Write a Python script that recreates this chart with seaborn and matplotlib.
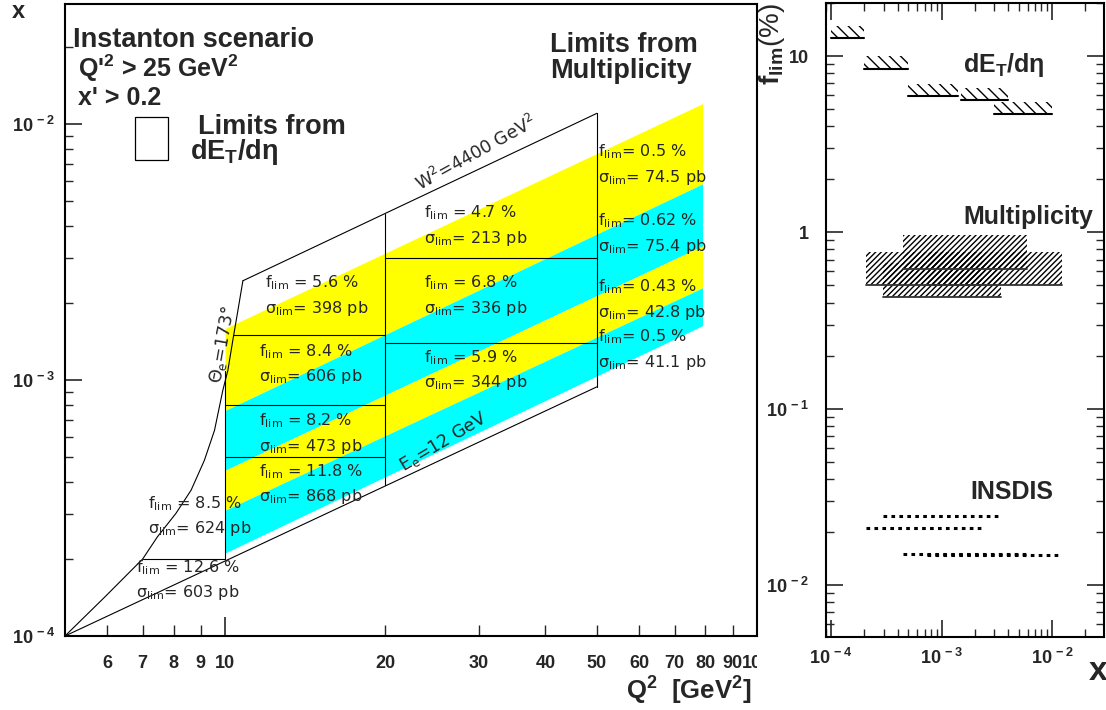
import numpy as np
import pandas as pd
import seaborn as sns
from matplotlib import pyplot as plt
from matplotlib.patches import Rectangle
from matplotlib.ticker import NullFormatter
from matplotlib.transforms import Bbox, TransformedBbox

# ---- left panel: (Q2, x) plane -------------------------------------------

# Theta_e = 173 deg acceptance edge
theta_q2 = [5.0, 5.94, 7.0, 7.46, 8.08, 8.63, 9.14, 9.55, 9.90, 10.12, 10.34, 10.57, 10.8]
theta_x = [1.0e-4, 1.42e-4, 2.0e-4, 2.44e-4, 3.01e-4, 3.71e-4, 4.85e-4, 6.35e-4,
           9.1e-4, 1.09e-3, 1.43e-3, 1.87e-3, 2.44e-3]

# W2 = 4400 GeV2 line and E_e = 12 GeV line
w2_q2 = [10.8, 50.0]
w2_x = [2.44e-3, 1.1e-2]
ee_q2 = [5.0, 50.0]
ee_x = [1.0e-4, 9.4e-4]

# dEt/deta bin borders
vbin_q2 = [10.0, 20.0, 50.0]
vbin_xlo = [2.0e-4, 3.9e-4, 9.4e-4]
vbin_xhi = [1.08e-3, 4.45e-3, 1.1e-2]
hbin_x = [2.0e-4, 5.0e-4, 8.0e-4, 1.5e-3, 1.4e-3, 3.0e-3]
hbin_q2lo = [7.0, 10.0, 10.0, 10.35, 20.0, 20.0]
hbin_q2hi = [10.0, 20.0, 20.0, 20.0, 50.0, 50.0]

# multiplicity bands (edges at Q2 = 10 and Q2 = 79)
band_q2 = [10.0, 79.0]
band_left = [1.59e-3, 7.6e-4, 4.44e-4, 3.1e-4, 2.11e-4]
band_right = [1.2e-2, 5.83e-3, 3.34e-3, 2.29e-3, 1.63e-3]
band_colors = ["#ffff00", "#00ffff", "#ffff00", "#00ffff"]

# limits written in the cells
cell_f = ["5.6", "4.7", "6.8", "8.4", "5.9", "8.2", "11.8", "8.5", "12.6"]
cell_sigma = ["398", "213", "336", "606", "344", "473", "868", "624", "603"]
mult_f = ["0.5", "0.62", "0.43", "0.5"]
mult_sigma = ["74.5", "75.4", "42.8", "41.1"]

# ---- right panel: f_lim vs x ---------------------------------------------
det_xlo = [1.0e-4, 2.0e-4, 5.0e-4, 1.5e-3, 3.0e-3]
det_xhi = [2.0e-4, 5.0e-4, 1.4e-3, 4.0e-3, 1.0e-2]
det_f = [12.6, 8.5, 5.9, 5.6, 4.7]

mult_xlo = [7.6e-4, 4.45e-4, 2.95e-4, 2.07e-4]
mult_xhi = [1.22e-2, 5.9e-3, 3.45e-3, 2.3e-3]
mult_val = [0.5, 0.62, 0.43, 0.5]

insdis_xlo = [7.3e-4, 4.46e-4, 2.94e-4, 2.07e-4]
insdis_xhi = [1.2e-2, 5.8e-3, 3.26e-3, 2.34e-3]
insdis_val = [0.0147, 0.0150, 0.0245, 0.021]


W, H = 1106, 710


def fig_xy(px, py):
    # position in reference pixels -> figure fraction
    return px / W, 1 - py / H


sns.set_theme(style="ticks", rc={"axes.edgecolor": "black", "axes.linewidth": 1.5})
plt.rcParams["font.family"] = ["Liberation Sans", "DejaVu Sans"]
plt.rcParams["font.weight"] = "bold"
plt.rcParams["mathtext.fontset"] = "custom"
plt.rcParams["mathtext.rm"] = "DejaVu Sans:weight=normal"
plt.rcParams["mathtext.it"] = "DejaVu Sans:italic:weight=normal"
plt.rcParams["mathtext.bf"] = "Liberation Sans:bold"
plt.rcParams["hatch.linewidth"] = 1.0

fig = plt.figure(figsize=(11.06, 7.10), dpi=100)

# ======================= left panel =======================================
ax1 = fig.add_axes([65 / W, 1 - 636 / H, 692 / W, 632 / H])
ax1.set_xscale("log")
ax1.set_yscale("log")
ax1.set_xlim(5, 100)
ax1.set_ylim(1e-4, 0.0294)

for i, c in enumerate(band_colors):
    ax1.fill_between(band_q2, [band_left[i + 1], band_right[i + 1]],
                     [band_left[i], band_right[i]], color=c, lw=0, zorder=1)

line_kw = dict(color="black", lw=0.8, zorder=3)
sns.lineplot(x=theta_q2, y=theta_x, ax=ax1, sort=False, estimator=None, **line_kw)
ax1.plot(w2_q2, w2_x, **line_kw)
ax1.plot(ee_q2, ee_x, **line_kw)
for q, lo, hi in zip(vbin_q2, vbin_xlo, vbin_xhi):
    ax1.plot([q, q], [lo, hi], **line_kw)
for xv, lo, hi in zip(hbin_x, hbin_q2lo, hbin_q2hi):
    ax1.plot([lo, hi], [xv, xv], **line_kw)

ax1.set_xticks([10, 100], labels=["10", "100"])
minor_q2 = [6, 7, 8, 9, 20, 30, 40, 50, 60, 70, 80, 90]
ax1.set_xticks(minor_q2, labels=[str(v) for v in minor_q2], minor=True)
ax1.set_yticks([1e-4, 1e-3, 1e-2],
               labels=[r"$\mathbf{10^{\,-4}}$", r"$\mathbf{10^{\,-3}}$", r"$\mathbf{10^{\,-2}}$"])
ax1.yaxis.set_minor_formatter(NullFormatter())
ax1.tick_params(axis="x", which="major", direction="in", length=14, width=1.2,
                top=False, pad=14, labelsize=13)
ax1.tick_params(axis="x", which="minor", direction="in", length=8, width=1.0,
                top=False, pad=14, labelsize=13)
ax1.tick_params(axis="y", which="major", direction="in", length=12, width=1.2,
                right=False, pad=7, labelsize=13)
ax1.tick_params(axis="y", which="minor", direction="in", length=6, width=1.0, right=False)
ax1.set_xlabel("")
ax1.set_ylabel("")

# the "100" label is cut by the frame edge in the reference
clip = TransformedBbox(Bbox([[0, 0], [757 / W, 1]]), fig.transFigure)
for t in ax1.xaxis.get_major_ticks():
    t.label1.set_clip_box(clip)
    t.label1.set_clip_on(True)

head_kw = dict(fontsize=19.5, fontweight="bold", ha="left", va="center")
fig.text(*fig_xy(73, 40), "Instanton scenario", **head_kw)
fig.text(*fig_xy(78, 68), r"Q'$^{\mathbf{2}}$ > 25 GeV$^{\mathbf{2}}$",
         **{**head_kw, "fontsize": 18})
fig.text(*fig_xy(78, 98), "x' > 0.2", **{**head_kw, "fontsize": 18})
fig.text(*fig_xy(198, 127), "Limits from", **head_kw)
fig.text(*fig_xy(190, 152), r"dE$_{\mathbf{T}}$/dη", **head_kw)
fig.text(*fig_xy(550, 45), "Limits from", **head_kw)
fig.text(*fig_xy(550, 71), "Multiplicity", **head_kw)
fig.patches.append(Rectangle(fig_xy(135, 160), 33 / W, 43 / H, fill=False,
                             edgecolor="black", lw=0.9, transform=fig.transFigure, figure=fig))

ann_kw = dict(fontsize=11.5, fontweight="normal", family=["DejaVu Sans"],
              ha="left", va="center", zorder=5)
cell_pos = [(265, 283), (424, 213), (424, 283), (259, 352), (424, 358),
            (259, 421), (259, 472), (148, 504), (136, 568)]
for (px, py), f, s in zip(cell_pos, cell_f, cell_sigma):
    fig.text(*fig_xy(px, py), r"f$_{\mathrm{lim}}$ = " + f + " %", **ann_kw)
    fig.text(*fig_xy(px, py + 25), r"σ$_{\mathrm{lim}}$= " + s + " pb", **ann_kw)
mult_pos = [(598, 152), (598, 221), (598, 287), (598, 337)]
for (px, py), f, s in zip(mult_pos, mult_f, mult_sigma):
    fig.text(*fig_xy(px, py), r"f$_{\mathrm{lim}}$= " + f + " %", **ann_kw)
    fig.text(*fig_xy(px, py + 25.5), r"σ$_{\mathrm{lim}}$= " + s + " pb", **ann_kw)

rot_kw = dict(fontsize=12.5, fontweight="normal", family=["DejaVu Sans"],
              ha="center", va="center", rotation_mode="anchor")
fig.text(*fig_xy(476, 153), r"W$^{2}$=4400 GeV$^{2}$", rotation=29, **rot_kw)
fig.text(*fig_xy(222, 344), r"Θ$_{\mathrm{e}}$=173°", rotation=80, **rot_kw)
fig.text(*fig_xy(443, 442), r"E$_{\mathrm{e}}$=12 GeV", rotation=31, **rot_kw)

fig.text(*fig_xy(18, 11), "x", fontsize=17, fontweight="bold", ha="center", va="center")
fig.text(*fig_xy(752, 690), r"Q$^{\mathbf{2}}$  [GeV$^{\mathbf{2}}$]", fontsize=18.5,
         fontweight="bold", ha="right", va="center")

# ======================= right panel ======================================
ax2 = fig.add_axes([826 / W, 1 - 637 / H, 278 / W, 634 / H])
ax2.set_xscale("log")
ax2.set_yscale("log")
ax2.set_xlim(9.0e-5, 0.0294)
ax2.set_ylim(5.07e-3, 20)

for lo, hi, v in zip(det_xlo, det_xhi, det_f):
    ax2.fill_between([lo, hi], v, v * 1.17, facecolor="none", edgecolor="black",
                     hatch="\\\\\\", lw=0)
    ax2.plot([lo, hi], [v, v], color="black", lw=1.5)

for lo, hi, v in zip(mult_xlo, mult_xhi, mult_val):
    ax2.fill_between([lo, hi], v, v * 1.55, facecolor="none", edgecolor="black",
                     hatch="//////", lw=0)
    ax2.plot([lo, hi], [v, v], color="#333333", lw=1.3)

ins = pd.DataFrame({
    "x": insdis_xlo + insdis_xhi,
    "f": insdis_val + insdis_val,
    "seg": list(range(len(insdis_val))) * 2,
})
sns.lineplot(data=ins, x="x", y="f", units="seg", estimator=None, ax=ax2,
             color="black", lw=2.2, linestyle=(0, (1.2, 1.4)))

ax2.set_xticks([1e-4, 1e-3, 1e-2],
               labels=[r"$\mathbf{10^{\,-4}}$", r"$\mathbf{10^{\,-3}}$", r"$\mathbf{10^{\,-2}}$"])
ax2.set_yticks([1e-2, 1e-1, 1, 10],
               labels=[r"$\mathbf{10^{\,-2}}$", r"$\mathbf{10^{\,-1}}$", "1", "10"])
ax2.xaxis.set_minor_formatter(NullFormatter())
ax2.yaxis.set_minor_formatter(NullFormatter())
ax2.tick_params(axis="both", which="major", direction="in", length=12, width=1.2,
                top=True, right=True, labelsize=13)
ax2.tick_params(axis="both", which="minor", direction="in", length=6, width=1.0,
                top=True, right=True)
ax2.tick_params(axis="x", which="major", pad=8)
ax2.tick_params(axis="y", which="major", pad=12)
ax2.set_xlabel("")
ax2.set_ylabel("")

big_kw = dict(fontsize=18, fontweight="bold", ha="left", va="center")
fig.text(*fig_xy(963, 65), r"dE$_{\mathbf{T}}$/dη", **big_kw)
fig.text(*fig_xy(963, 217), "Multiplicity", **big_kw)
fig.text(*fig_xy(970, 492), "INSDIS", **big_kw)

fig.text(*fig_xy(772, 3), r"$\mathbf{f_{lim}}$(%)", fontsize=20, fontweight="normal",
         rotation=90, ha="center", va="top")
fig.text(*fig_xy(1098, 672), "x", fontsize=24, fontweight="bold", ha="center", va="center")

fig.savefig("out.png", dpi=100)
